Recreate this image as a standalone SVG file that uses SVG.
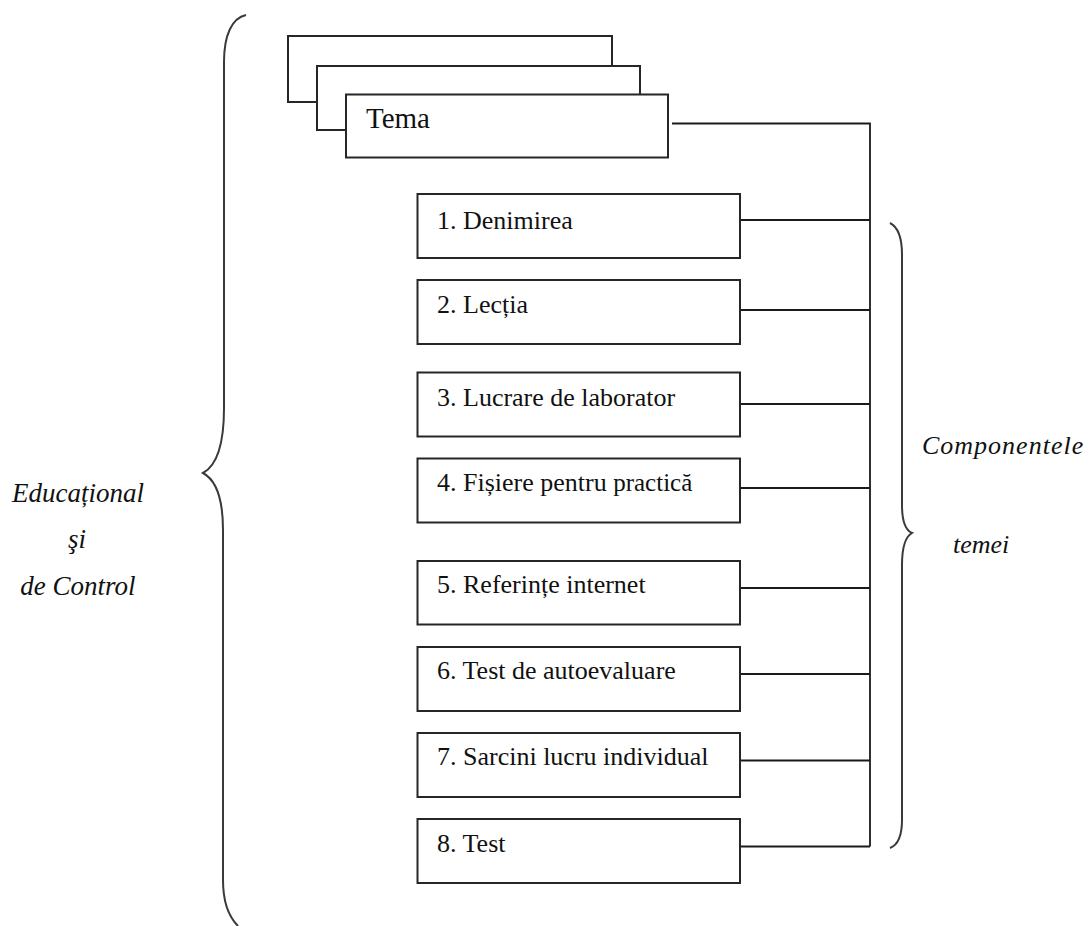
<svg xmlns="http://www.w3.org/2000/svg" width="1089" height="926" viewBox="0 0 1089 926">
<style>
.box{fill:#fff;stroke:#262626;stroke-width:2}
.lbl{font-family:"Liberation Serif","Times New Roman",serif;font-size:26px;fill:#111}
.it{font-family:"Liberation Serif","Times New Roman",serif;font-style:italic;font-size:26px;fill:#111}
.ln{fill:none;stroke:#1a1a1a;stroke-width:1.8}
.brace{fill:none;stroke:#3a3a3a;stroke-width:2}
</style>
<rect width="1089" height="926" fill="#fff"/>
<g id="braces">
<path class="brace" d="M246,15 C232,18 224,35 224,62 L224,408 C224,448 216,466 203,473 C216,480 223,498 223,530 L223,880 C223,902 228,916 238,926"/>
<path class="brace" d="M890,223 C898,227 902,238 902,255 L902,505 C902,520 905,530 912,533 C905,537 902,548 902,565 L902,820 C902,836 898,845 890,848"/>
</g>
<g id="connectors">
<path class="ln" d="M672,123.5 H870 V846.5"/>
<path class="ln" d="M740,220 H870"/>
<path class="ln" d="M740,310 H870"/>
<path class="ln" d="M740,404 H870"/>
<path class="ln" d="M740,488 H870"/>
<path class="ln" d="M740,588 H870"/>
<path class="ln" d="M740,674 H870"/>
<path class="ln" d="M740,760.5 H870"/>
<path class="ln" d="M740,846.5 H870"/>
</g>
<g id="tema-stack">
<rect class="box" x="288" y="36" width="324" height="66"/>
<rect class="box" x="317" y="66" width="323" height="64"/>
<rect class="box" x="346" y="94.5" width="322" height="63"/>
<text class="lbl" x="366" y="128" style="font-size:29px">Tema</text>
</g>
<g id="n1"><rect class="box" x="417.5" y="194" width="322.5" height="64"/><text class="lbl" x="437" y="229">1. Denimirea</text></g>
<g id="n2"><rect class="box" x="417.5" y="280" width="322.5" height="64"/><text class="lbl" x="437" y="313">2. Lecția</text></g>
<g id="n3"><rect class="box" x="417.5" y="372.5" width="322.5" height="64"/><text class="lbl" x="437" y="406">3. Lucrare de laborator</text></g>
<g id="n4"><rect class="box" x="417.5" y="458.5" width="322.5" height="64"/><text class="lbl" x="437" y="490.5">4. Fișiere pentru <tspan style="font-size:25px">practică</tspan></text></g>
<g id="n5"><rect class="box" x="417.5" y="561" width="322.5" height="63.5"/><text class="lbl" x="437" y="593">5. Referințe internet</text></g>
<g id="n6"><rect class="box" x="417.5" y="647" width="322.5" height="64"/><text class="lbl" x="437" y="679">6. Test de autoevaluare</text></g>
<g id="n7"><rect class="box" x="417.5" y="733" width="322.5" height="64"/><text class="lbl" x="437" y="765">7. Sarcini lucru individual</text></g>
<g id="n8"><rect class="box" x="417.5" y="819" width="322.5" height="64"/><text class="lbl" x="437" y="851.5">8. Test</text></g>
<g id="left-label">
<text class="it" x="78" y="501.5" text-anchor="middle" style="font-size:27px">Educațional</text>
<text class="it" x="77" y="548" text-anchor="middle" style="font-size:27px">şi</text>
<text class="it" x="78" y="595" text-anchor="middle" style="font-size:27px">de Control</text>
</g>
<g id="right-label">
<text class="it" x="922" y="454" letter-spacing="1">Componentele</text>
<text class="it" x="953" y="553">temei</text>
</g>
</svg>
